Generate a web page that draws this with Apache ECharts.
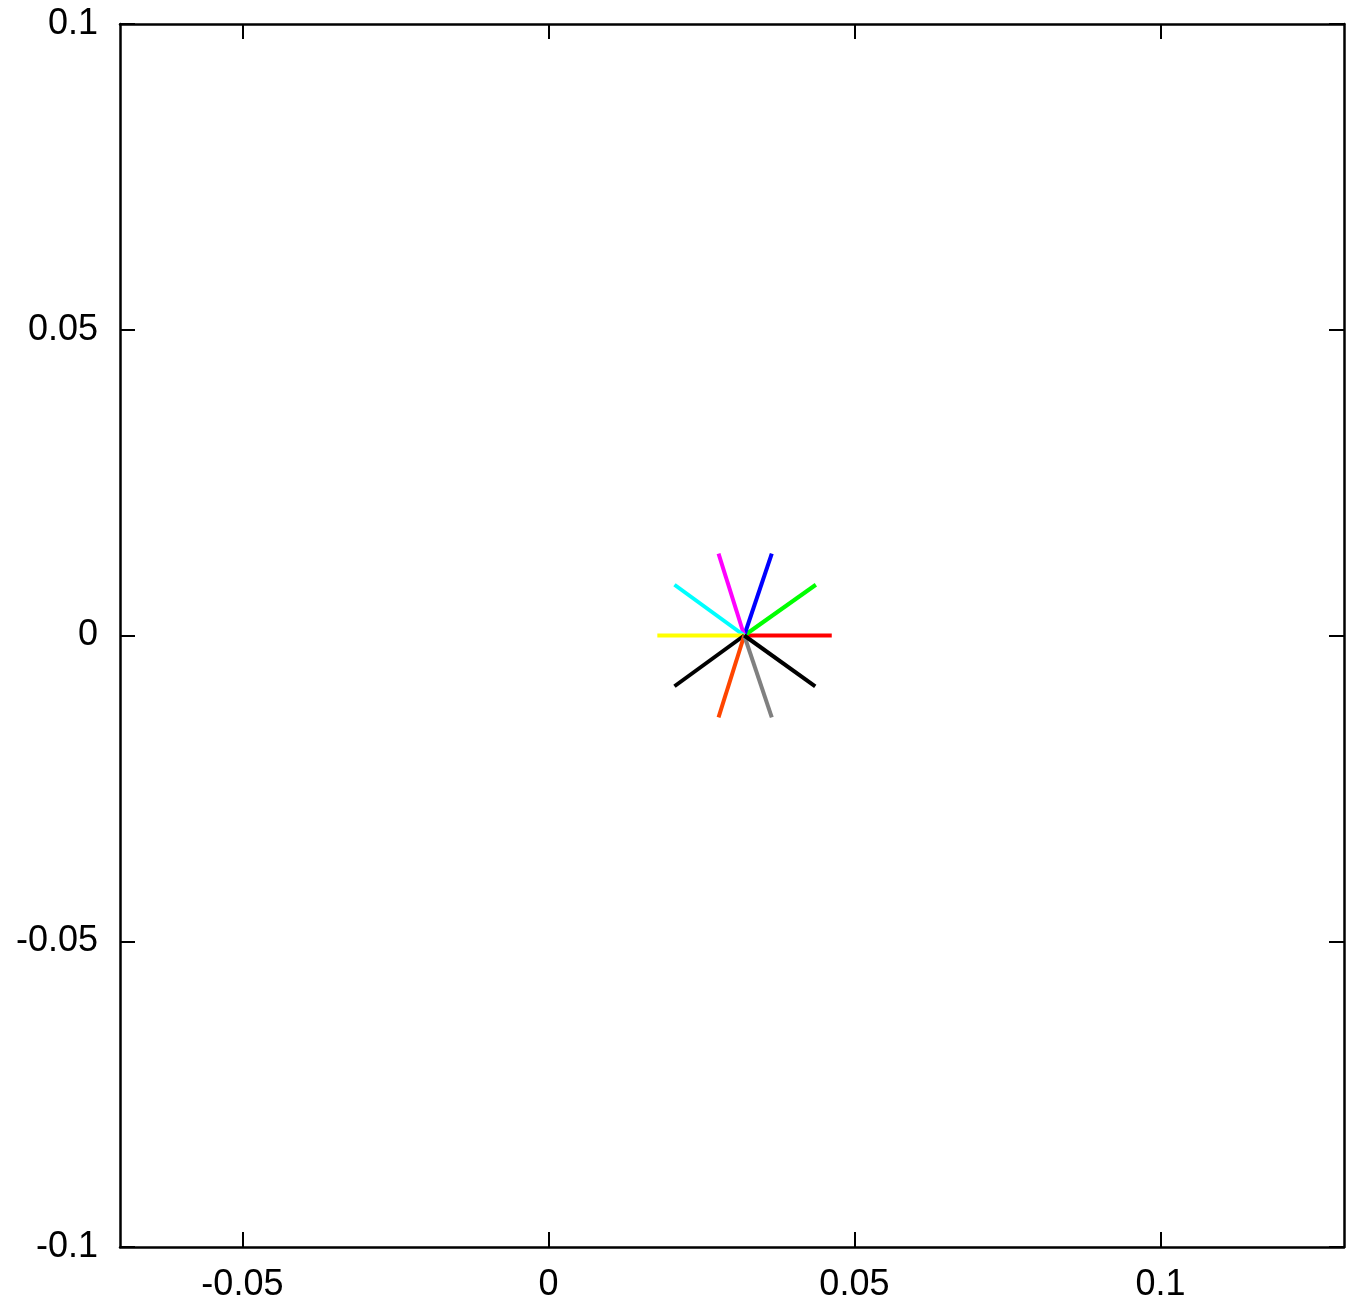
<!DOCTYPE html>
<html><head><meta charset="utf-8">
<script src="https://cdn.jsdelivr.net/npm/echarts@6/dist/echarts.min.js"></script>
<style>html,body{margin:0;padding:0;background:#fff}#c{width:1353px;height:1315px}</style>
</head><body><div id="c"></div>
<script>
const centerPoint = [0.032, 0];
const endX = [0.0463, 0.0437, 0.0365, 0.0278, 0.0206, 0.0178, 0.0206, 0.0278, 0.0365, 0.0436];
const endY = [0, 0.0083, 0.0134, 0.0134, 0.0083, 0, -0.0083, -0.0134, -0.0134, -0.0083];
const lineColors = ['#ff0000', '#00ff00', '#0000ff', '#ff00ff', '#00ffff', '#ffff00', '#000000', '#ff4500', '#808080', '#000000'];
const xTicks = [-0.05, 0, 0.05, 0.1];
const yTicks = [-0.1, -0.05, 0, 0.05, 0.1];

const font = 'Liberation Sans, Arial, Helvetica, sans-serif';
const fmt = v => String(Math.round(v * 1000) / 1000);

const series = endX.map((x, i) => ({
  type: 'line',
  xAxisIndex: 0, yAxisIndex: 0,
  data: [centerPoint, [x, endY[i]]],
  showSymbol: false,
  symbol: 'none',
  lineStyle: { color: lineColors[i], width: 4, cap: 'butt' },
  itemStyle: { color: lineColors[i] },
  emphasis: { disabled: true },
  silent: true
}));

const axisLine = { show: true, onZero: false, lineStyle: { color: '#000', width: 2.5 } };
const tick = { show: true, inside: true, length: 15, lineStyle: { color: '#000', width: 2 } };
const chart = echarts.init(document.getElementById('c'));
chart.setOption({
  animation: false,
  backgroundColor: '#fff',
  grid: { left: 120, right: 9, top: 24, bottom: 68 },
  xAxis: [
    { type: 'value', min: -0.07, max: 0.13, position: 'bottom',
      axisLine, splitLine: { show: false },
      axisTick: Object.assign({ customValues: xTicks }, tick),
      axisLabel: { customValues: xTicks, formatter: fmt, color: '#000', fontSize: 36, fontFamily: font, margin: 20 } },
    { type: 'value', min: -0.07, max: 0.13, position: 'top',
      axisLine, splitLine: { show: false },
      axisTick: Object.assign({ customValues: xTicks }, tick),
      axisLabel: { show: false } }
  ],
  yAxis: [
    { type: 'value', min: -0.1, max: 0.1, interval: 0.05, position: 'left',
      axisLine, splitLine: { show: false },
      axisTick: tick,
      axisLabel: { formatter: fmt, color: '#000', fontSize: 36, fontFamily: font, margin: 22 } },
    { type: 'value', min: -0.1, max: 0.1, interval: 0.05, position: 'right',
      axisLine, splitLine: { show: false },
      axisTick: tick,
      axisLabel: { show: false } }
  ],
  series
});
</script></body></html>
